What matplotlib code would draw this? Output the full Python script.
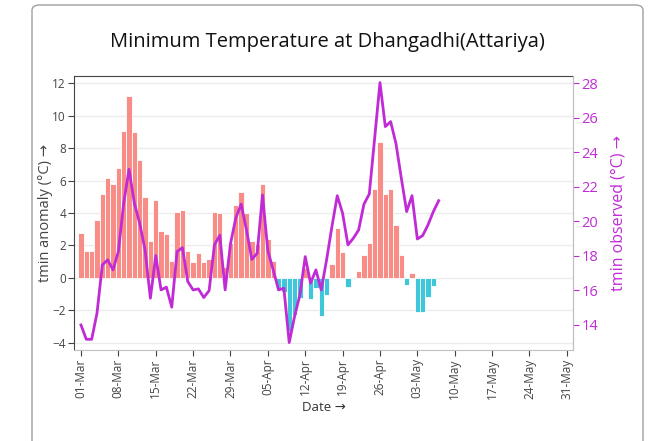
import numpy as np
import matplotlib
matplotlib.use("Agg")
import matplotlib.pyplot as plt
import matplotlib.dates as mdates
from matplotlib.patches import FancyBboxPatch

plt.rcParams['font.family'] = ['Open Sans', 'DejaVu Sans']

# data (daily from 01-Mar)
start = np.datetime64('2023-03-01')
anomaly = [2.78, 1.65, 1.65, 3.56, 5.19, 6.17, 5.76, 6.79, 9.07, 11.19,
           8.97, 7.28, 4.96, 2.26, 4.79, 2.88, 2.70, 1.07, 4.09, 4.18,
           1.65, 0.95, 1.56, 0.95, 1.17, 4.09, 3.99, 0.66, 2.16, 4.47,
           5.29, 3.99, 2.26, 2.06, 5.80, 2.37, 1.07, -0.75, -0.90, -3.30,
           -2.30, -1.23, 0.60, -1.30, -0.65, -2.33, -1.04, 0.86, 3.09, 1.58,
           -0.58, -0.10, 0.45, 1.40, 2.18, 5.51, 8.40, 5.19, 5.51, 3.28,
           1.42, -0.43, 0.27, -2.08, -2.08, -1.19, -0.49]
observed = [14.00, 13.17, 13.17, 14.68, 17.48, 17.77, 17.19, 18.25, 21.05, 23.02,
            21.05, 19.89, 18.35, 15.55, 18.02, 16.03, 16.19, 15.03, 18.25, 18.48,
            16.52, 16.03, 16.09, 15.59, 15.99, 18.64, 19.20, 16.03, 18.70, 20.20,
            21.00, 19.50, 17.80, 18.15, 21.53, 18.30, 17.19, 16.03, 16.13, 12.98,
            14.49, 15.74, 17.96, 16.42, 17.19, 16.03, 17.77, 19.70, 21.49, 20.47,
            18.64, 19.02, 19.50, 21.00, 21.59, 24.81, 28.04, 25.49, 25.78, 24.50,
            22.50, 20.57, 21.49, 18.98, 19.18, 19.80, 20.57, 21.20]
left_ticks = [-4, -2, 0, 2, 4, 6, 8, 10, 12]
right_ticks = [14, 16, 18, 20, 22, 24, 26, 28]

PINK = '#f88c87'
CYAN = '#3ec6db'
PURPLE = '#c02bd6'

bar_days = start + np.arange(len(anomaly))
line_days = start + np.arange(len(observed))
anom = np.array(anomaly)
bar_colors = [PINK if v >= 0 else CYAN for v in anom]

fig = plt.figure(figsize=(6.48, 4.41), dpi=100)
fig.patches.append(FancyBboxPatch((32/648, -0.05), 611/648, 1 - 5/441 + 0.05,
                                  boxstyle="round,pad=0,rounding_size=0.012",
                                  transform=fig.transFigure, fill=False,
                                  ec='#a0a0a0', lw=1.0))

ax = fig.add_axes([74.3/648, 1 - 350/441, (573.3 - 74.3)/648, (350 - 75.7)/441])
ax2 = ax.twinx()

ax.bar(bar_days.astype('datetime64[D]').astype(object), anom, width=1.0,
       color=bar_colors, edgecolor='white', linewidth=0.6, zorder=2)
ax.set_ylim(-4.45, 12.47)
ax.set_yticks(left_ticks)
ax.set_axisbelow(True)
ax.grid(axis='y', color='#ececec', lw=1.0, zorder=0)

ax2.plot(line_days.astype(object), observed, color=PURPLE, lw=2.0, zorder=3)
ax2.set_ylim(12.55, 28.44)
ax2.set_yticks(right_ticks)

x0 = start - np.timedelta64(30, 'h')
x1 = np.datetime64('2023-05-31') + np.timedelta64(29, 'h')
ax.set_xlim(x0.astype(object), x1.astype(object))
xt = start + np.arange(0, 92, 7)
ax.set_xticks(xt.astype(object))
ax.xaxis.set_major_formatter(mdates.DateFormatter('%d-%b'))
for lab in ax.get_xticklabels():
    lab.set_rotation(90)

ax.tick_params(axis='x', labelsize=8.5, colors='#444444', length=4, width=0.8, pad=2)
ax.tick_params(axis='y', labelsize=8.5, colors='#444444', length=4, width=0.8, pad=2)
ax2.tick_params(axis='y', labelsize=10.5, colors=PURPLE, length=4, width=0.8, pad=2)

for s in ['top', 'left']:
    ax.spines[s].set_color('#444444')
for s in ['bottom', 'right']:
    ax.spines[s].set_color('#c0c0c0')
for s in ax2.spines.values():
    s.set_visible(False)
ax2.spines['right'].set_visible(True)
ax2.spines['right'].set_color('#c0c0c0')

ax.set_ylabel('tmin anomaly (°C) →', fontsize=10.5, color='#444444')
ax.yaxis.set_label_coords(-0.043, 0.5)
ax2.set_ylabel('tmin observed (°C) →', fontsize=11.5, color=PURPLE, rotation=90)
ax2.yaxis.set_label_coords(1.075, 0.5)
ax.set_xlabel('Date →', fontsize=9.5, color='#333333', labelpad=2)

fig.text(327.5/648, 1 - 42/441, 'Minimum Temperature at Dhangadhi(Attariya)',
         ha='center', va='center', fontsize=14.5, color='#111111')

fig.savefig('out.png', dpi=100)
